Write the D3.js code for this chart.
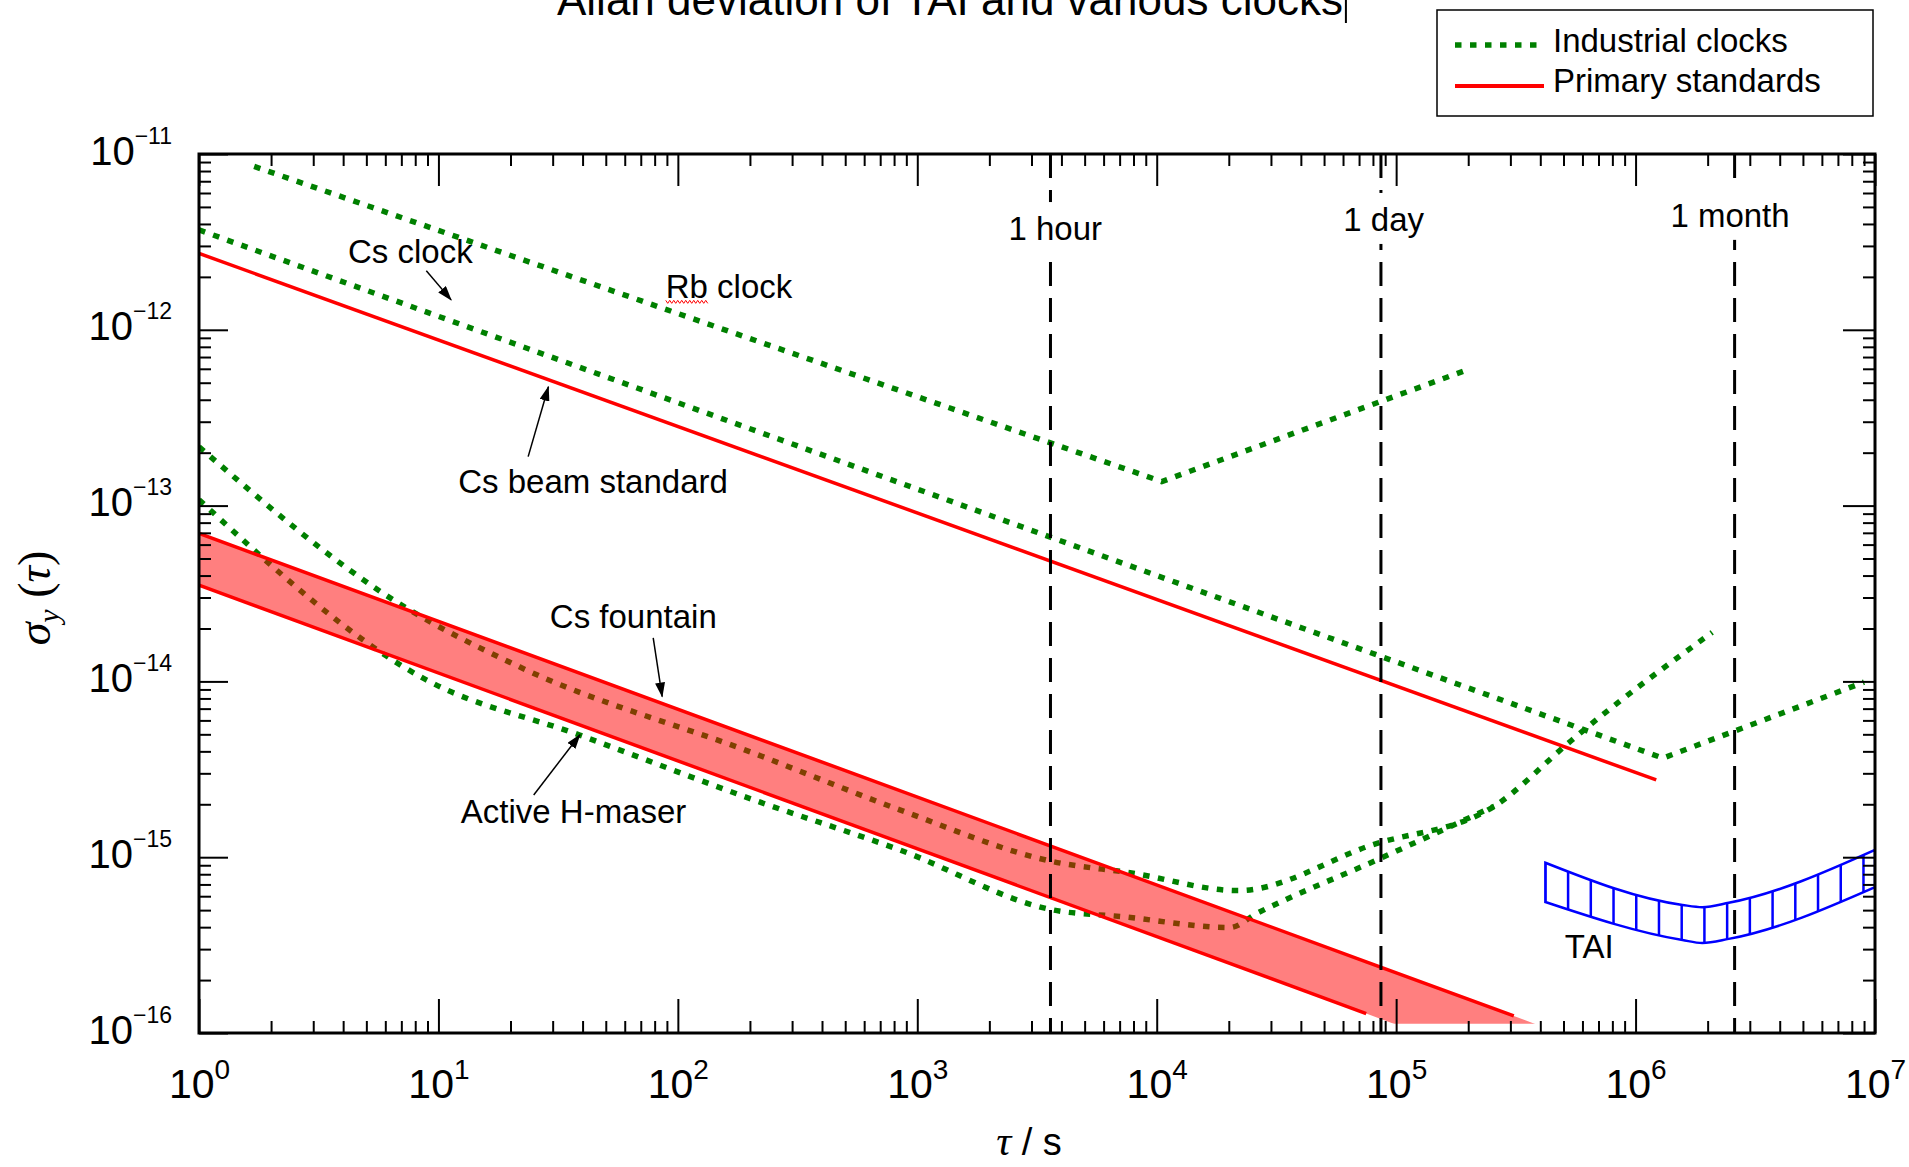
<!DOCTYPE html>
<html>
<head>
<meta charset="utf-8">
<script src="https://cdn.jsdelivr.net/npm/d3@7"></script>
<style>
  body { margin: 0; background: #fff; }
  svg text { font-family: "Liberation Sans", Arial, sans-serif; fill: #000; }
</style>
</head>
<body>
<script>
// ---- data (tau in s, sigma = Allan deviation) ----
const rbTau = [1.7, 1.05e4, 2.0e5];
const rbSigma = [8.5e-12, 1.37e-13, 5.95e-13];

const csClockTau = [1, 1.3e6, 9e6];
const csClockSigma = [3.7e-12, 3.66e-15, 9.9e-15];

const csBeamTau = [1, 1.22e6];
const csBeamSigma = [2.72e-12, 2.75e-15];

const maserATau = [1, 6.8, 21.8, 209, 845, 3715, 7850, 2.19e4, 7.94e4, 2.57e5, 5.25e5, 6.3e5, 2.09e6];
const maserASigma = [2.16e-13, 2.79e-14, 1.21e-14, 3.89e-15, 1.86e-15, 9.42e-16, 8.13e-16, 6.46e-16, 1.175e-15, 1.95e-15, 4.47e-15, 5.5e-15, 1.9e-14];

const maserBTau = [1, 8.9, 38.9, 209, 845, 3715, 7210, 2.02e4, 2.62e4, 8.3e4, 2.57e5];
const maserBSigma = [1.08e-13, 1.02e-14, 4.95e-15, 2.11e-15, 1.1e-15, 5.0e-16, 4.59e-16, 3.98e-16, 4.79e-16, 9.64e-16, 1.95e-15];

// Cs fountain band (upper line drawn over 3 points, lower over 2)
const fountainTau = [1, 7.5e4, 3.1e5, 4.2e5];
const fountainHigh = [6.95e-14, 2.54e-16, 1.25e-16, 1.07e-16];
const fountainLow = [3.53e-14, 1.29e-16, 6.3e-17, 5.4e-17];
const fountainFloor = 1.13e-16;

const taiTau = [4.2e5, 1.57e6, 1.9e6, 2.45e6, 1e7];
const taiHigh = [9.3e-16, 5.35e-16, 5.2e-16, 5.5e-16, 1.1e-15];
const taiLow = [5.56e-16, 3.38e-16, 3.25e-16, 3.43e-16, 6.76e-16];

const markerTau = [3600, 86400, 2592000];
const markerLabels = ["1 hour", "1 day", "1 month"];
const markerLabelTau = [3770, 8.87e4, 2.48e6];
const markerLabelSigma = [3.24e-12, 3.65e-12, 3.85e-12];

const noteText = ["Cs clock", "Rb clock", "Cs beam standard", "Cs fountain", "Active H-maser", "TAI"];
const noteTau = [4.19, 89, 12.1, 29.2, 12.4, 5.06e5];
const noteSigma = [2.4e-12, 1.52e-12, 1.175e-13, 2.01e-14, 1.57e-15, 2.67e-16];

const arrowFromTau = [8.9, 23.7, 78.9, 25];
const arrowFromSigma = [2.17e-12, 1.9e-13, 1.77e-14, 2.26e-15];
const arrowToTau = [11.3, 28.8, 86, 39];
const arrowToSigma = [1.48e-12, 4.74e-13, 8.2e-15, 4.97e-15];

const xExponents = [0, 1, 2, 3, 4, 5, 6, 7];
const yExponents = [-16, -15, -14, -13, -12, -11];

const legendLabels = ["Industrial clocks", "Primary standards"];
const titleText = "Allan deviation of TAI and various clocks";

// ---- layout ----
const W = 1909, H = 1167;
const margin = {top: 154, right: 34, bottom: 134, left: 199},
    width = W - margin.left - margin.right,
    height = H - margin.top - margin.bottom;

const GREEN = "#008000", RED = "#ff0000", BLUE = "#0000ff";
const dots = "6.5,8.5";

var x = d3.scaleLog().domain([1, 1e7]).range([0, width]);
var y = d3.scaleLog().domain([1e-16, 1e-11]).range([height, 0]);

var svg = d3.select("body").append("svg")
    .attr("width", W)
    .attr("height", H);

var defs = svg.append("defs");
defs.append("clipPath").attr("id", "plot")
  .append("rect").attr("width", width).attr("height", height);
defs.append("clipPath").attr("id", "floor")
  .append("rect").attr("width", width).attr("height", y(fountainFloor));
defs.append("marker")
    .attr("id", "head")
    .attr("markerUnits", "userSpaceOnUse")
    .attr("markerWidth", 15).attr("markerHeight", 10)
    .attr("refX", 14).attr("refY", 5)
    .attr("orient", "auto")
  .append("path").attr("d", "M0,0L15,5L0,10Z").attr("fill", "#000");

var g = svg.append("g")
    .attr("transform", "translate(" + margin.left + "," + margin.top + ")");

var plot = g.append("g").attr("clip-path", "url(#plot)");

function pairs(t, s) { return t.map(function(d, i) { return [d, s[i]]; }); }

var straight = d3.line()
    .x(function(d) { return x(d[0]); })
    .y(function(d) { return y(d[1]); });
var smooth = d3.line()
    .x(function(d) { return x(d[0]); })
    .y(function(d) { return y(d[1]); })
    .curve(d3.curveMonotoneX);

// industrial clocks (green dotted)
[[rbTau, rbSigma, straight], [csClockTau, csClockSigma, straight],
 [maserATau, maserASigma, smooth], [maserBTau, maserBSigma, smooth]]
  .forEach(function(s) {
    plot.append("path")
      .attr("d", s[2](pairs(s[0], s[1])))
      .attr("fill", "none")
      .attr("stroke", GREEN)
      .attr("stroke-width", 5.5)
      .attr("stroke-dasharray", dots);
  });

// Cs fountain band
var fountainArea = d3.area()
    .x(function(d) { return x(d[0]); })
    .y0(function(d) { return y(d[2]); })
    .y1(function(d) { return y(d[1]); });
plot.append("g").attr("clip-path", "url(#floor)")
  .append("path")
    .attr("d", fountainArea(fountainTau.map(function(d, i) { return [d, fountainHigh[i], fountainLow[i]]; })))
    .attr("fill", RED)
    .attr("fill-opacity", 0.5);

// primary standards (red)
[pairs(csBeamTau, csBeamSigma),
 pairs(fountainTau, fountainHigh).slice(0, 3),
 pairs(fountainTau, fountainLow).slice(0, 2)].forEach(function(p) {
  plot.append("path")
    .attr("d", straight(p))
    .attr("fill", "none")
    .attr("stroke", RED)
    .attr("stroke-width", 3.5);
});

// TAI hatched band
var taiRows = taiTau.map(function(d, i) { return [d, taiHigh[i], taiLow[i]]; });
var taiArea = d3.area()
    .x(function(d) { return x(d[0]); })
    .y0(function(d) { return y(d[2]); })
    .y1(function(d) { return y(d[1]); })
    .curve(d3.curveMonotoneX);
defs.append("clipPath").attr("id", "tai")
  .append("path").attr("d", taiArea(taiRows));
var taiG = plot.append("g");
var lx0 = Math.log10(taiTau[0]), lx1 = Math.log10(taiTau[taiTau.length - 1]);
taiG.append("g").attr("clip-path", "url(#tai)")
  .selectAll("line")
  .data(d3.range(lx0, lx1 + 0.01, 0.0949))
  .enter().append("line")
    .attr("x1", function(d) { return x(Math.pow(10, d)); })
    .attr("x2", function(d) { return x(Math.pow(10, d)); })
    .attr("y1", 0).attr("y2", height)
    .attr("stroke", BLUE).attr("stroke-width", 2.5);
taiG.append("path")
    .attr("d", taiArea(taiRows))
    .attr("fill", "none")
    .attr("stroke", BLUE)
    .attr("stroke-width", 2.5);

// 1 hour / 1 day / 1 month markers
plot.selectAll(".marker")
  .data(markerTau)
  .enter().append("line")
    .attr("class", "marker")
    .attr("x1", function(d) { return x(d); })
    .attr("x2", function(d) { return x(d); })
    .attr("y1", 0).attr("y2", height)
    .attr("stroke", "#000")
    .attr("stroke-width", 3)
    .attr("stroke-dasharray", "24,12");

markerLabels.forEach(function(lab, i) {
  var t = g.append("text")
      .attr("x", x(markerLabelTau[i]))
      .attr("y", y(markerLabelSigma[i]))
      .attr("text-anchor", "middle")
      .style("font-size", "33px")
      .text(lab);
  var b = t.node().getBBox();
  g.insert("rect", function() { return t.node(); })
      .attr("x", b.x - 2).attr("y", b.y - 8)
      .attr("width", b.width + 4).attr("height", b.height + 14)
      .attr("fill", "#fff");
});

// annotations
noteText.forEach(function(txt, i) {
  var t = g.append("text")
      .attr("x", x(noteTau[i]))
      .attr("y", y(noteSigma[i]))
      .style("font-size", "33px")
      .text(txt);
  if (txt === "Rb clock") {
    // spell-check squiggle under "Rb"
    var w = t.node().getSubStringLength(0, 2);
    var x0 = x(noteTau[i]), y0 = y(noteSigma[i]) + 4;
    var pts = d3.range(0, Math.round(w / 2) + 1).map(function(k) { return [x0 + k * 2, y0 + (k % 2 ? 1.5 : -1.5)]; });
    g.append("path").attr("d", d3.line()(pts)).attr("fill", "none").attr("stroke", RED).attr("stroke-width", 1);
  }
});

arrowFromTau.forEach(function(d, i) {
  g.append("line")
    .attr("x1", x(d)).attr("y1", y(arrowFromSigma[i]))
    .attr("x2", x(arrowToTau[i])).attr("y2", y(arrowToSigma[i]))
    .attr("stroke", "#000")
    .attr("stroke-width", 1.5)
    .attr("marker-end", "url(#head)");
});

// ---- axes (ticks inside on all four sides) ----
var xMajor = xExponents.map(function(e) { return Math.pow(10, e); });
var xMinor = xMajor.slice(0, -1).flatMap(function(d) { return d3.range(2, 10).map(function(k) { return k * d; }); });
var yMajor = yExponents.map(function(e) { return Math.pow(10, e); });
var yMinor = yMajor.slice(0, -1).flatMap(function(d) { return d3.range(2, 10).map(function(k) { return k * d; }); });

function styleAxis(sel) {
  sel.select(".domain").remove();
  sel.selectAll(".tick line").attr("stroke", "#000").attr("stroke-width", 2);
}

g.append("g").attr("transform", "translate(0," + height + ")")
  .call(d3.axisBottom(x).tickValues(xMinor).tickSizeInner(-12).tickSizeOuter(0).tickFormat(""))
  .call(styleAxis);
var xAxis = g.append("g").attr("transform", "translate(0," + height + ")")
  .call(d3.axisBottom(x).tickValues(xMajor).tickSizeInner(-34).tickSizeOuter(0))
  .call(styleAxis);
xAxis.selectAll(".tick text").each(function(d, i) {
  var t = d3.select(this).text("").attr("y", 65).attr("dy", null).style("font-size", "41px");
  t.append("tspan").text("10");
  t.append("tspan").attr("dy", -19).style("font-size", "28px").text(xExponents[i]);
});

g.append("g")
  .call(d3.axisTop(x).tickValues(xMinor).tickSizeInner(-12).tickSizeOuter(0).tickFormat(""))
  .call(styleAxis);
g.append("g")
  .call(d3.axisTop(x).tickValues(xMajor).tickSizeInner(-32).tickSizeOuter(0).tickFormat(""))
  .call(styleAxis);

g.append("g")
  .call(d3.axisLeft(y).tickValues(yMinor).tickSizeInner(-12).tickSizeOuter(0).tickFormat(""))
  .call(styleAxis);
var yAxis = g.append("g")
  .call(d3.axisLeft(y).tickValues(yMajor).tickSizeInner(-29).tickSizeOuter(0).tickPadding(27))
  .call(styleAxis);
yAxis.selectAll(".tick text").each(function(d, i) {
  var t = d3.select(this).text("").attr("y", 10).attr("dy", null).style("font-size", "40px");
  t.append("tspan").text("10");
  t.append("tspan").attr("dy", -21).style("font-size", "23px").text("\u2212" + Math.abs(yExponents[i]));
});

g.append("g").attr("transform", "translate(" + width + ",0)")
  .call(d3.axisRight(y).tickValues(yMinor).tickSizeInner(-12).tickSizeOuter(0).tickFormat(""))
  .call(styleAxis);
g.append("g").attr("transform", "translate(" + width + ",0)")
  .call(d3.axisRight(y).tickValues(yMajor).tickSizeInner(-32).tickSizeOuter(0).tickFormat(""))
  .call(styleAxis);

g.append("rect")
    .attr("width", width).attr("height", height)
    .attr("fill", "none")
    .attr("stroke", "#000")
    .attr("stroke-width", 3);

// axis titles
var yl = svg.append("text")
    .attr("transform", "translate(50," + (margin.top + 444) + ") rotate(-90)")
    .attr("text-anchor", "middle")
    .style("font-family", "'Liberation Serif', 'DejaVu Serif', serif")
    .style("font-size", "46px");
yl.append("tspan").style("font-style", "italic").text("\u03c3");
yl.append("tspan").style("font-style", "italic").style("font-size", "30px").attr("dy", 9).text("y");
yl.append("tspan").attr("dy", -9).text(" (");
yl.append("tspan").style("font-style", "italic").text("\u03c4");
yl.append("tspan").text(")");

var xl = svg.append("text")
    .attr("x", 1029).attr("y", 1155)
    .attr("text-anchor", "middle")
    .style("font-size", "38px");
xl.append("tspan").style("font-family", "'Liberation Serif', 'DejaVu Serif', serif").style("font-style", "italic").style("font-size", "42px").text("\u03c4");
xl.append("tspan").text(" / s");

// title (cut at the top edge, as in the original) with its text cursor
var title = svg.append("text")
    .attr("x", 557).attr("y", 15)
    .style("font-size", "44px")
    .text(titleText);
var tEnd = 557 + title.node().getComputedTextLength();
svg.append("line")
    .attr("x1", tEnd + 3).attr("x2", tEnd + 3)
    .attr("y1", 0).attr("y2", 23)
    .attr("stroke", "#000").attr("stroke-width", 2);

// legend
var legend = svg.append("g").attr("transform", "translate(1437,10)");
legend.append("rect")
    .attr("width", 436).attr("height", 106)
    .attr("fill", "#fff").attr("stroke", "#000").attr("stroke-width", 1.5);
legend.selectAll("line")
  .data(legendLabels)
  .enter().append("line")
    .attr("x1", 18).attr("x2", 107)
    .attr("y1", function(d, i) { return 35 + i * 41; })
    .attr("y2", function(d, i) { return 35 + i * 41; })
    .attr("stroke", function(d, i) { return i ? RED : GREEN; })
    .attr("stroke-width", function(d, i) { return i ? 4 : 5.5; })
    .attr("stroke-dasharray", function(d, i) { return i ? null : dots; });
legend.selectAll("text")
  .data(legendLabels)
  .enter().append("text")
    .attr("x", 116)
    .attr("y", function(d, i) { return 42 + i * 40; })
    .style("font-size", "33px")
    .text(function(d) { return d; });
</script>
</body>
</html>
